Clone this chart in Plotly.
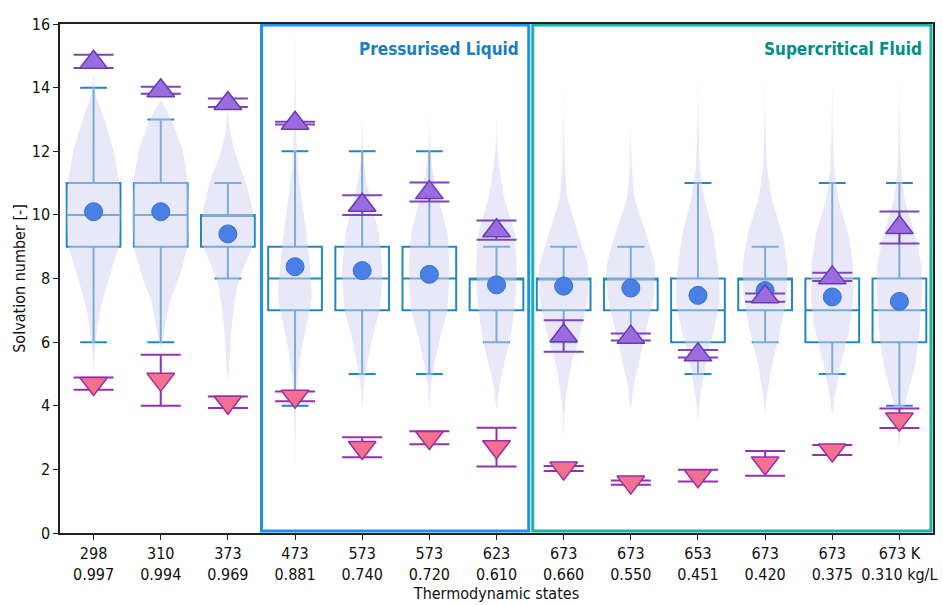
import plotly.graph_objects as go

# Thermodynamic states: temperature (K) and density (kg/L)
temperatures = ["298", "310", "373", "473", "573", "573", "623",
                "673", "673", "653", "673", "673", "673 K"]
densities = ["0.997", "0.994", "0.969", "0.881", "0.740", "0.720", "0.610",
             "0.660", "0.550", "0.451", "0.420", "0.375", "0.310 kg/L"]

# Box statistics of the solvation number distribution
box_lower = [6, 6, 8, 4, 5, 5, 6, 6, 6, 5, 6, 5, 4]
box_q1 = [9, 9, 9, 7, 7, 7, 7, 7, 7, 6, 7, 6, 6]
box_median = [10, 10, 10, 8, 8, 8, 8, 8, 8, 7, 8, 7, 7]
box_q3 = [11, 11, 10, 9, 9, 9, 8, 8, 8, 8, 8, 8, 8]
box_upper = [14, 13, 11, 12, 12, 12, 9, 9, 9, 11, 9, 11, 11]
mean_value = [10.1, 10.1, 9.4, 8.37, 8.25, 8.13, 7.8, 7.76, 7.7, 7.47, 7.62, 7.42, 7.28]

# Upper reference values (triangle up) with their ranges
up_value = [14.8, 13.9, 13.5, 12.88, 10.3, 10.7, 9.5, 6.2, 6.15, 5.6, 7.43, 8.02, 9.6]
up_low = [14.62, 13.81, 13.39, 12.84, 10.0, 10.42, 9.22, 5.7, 6.05, 5.52, 7.27, 7.92, 9.1]
up_high = [15.03, 14.03, 13.66, 12.93, 10.62, 11.02, 9.82, 6.69, 6.27, 5.75, 7.53, 8.18, 10.11]

# Lower reference values (triangle down) with their ranges
down_value = [4.7, 4.83, 4.11, 4.3, 2.69, 3.0, 2.71, 2.04, 1.6, 1.8, 2.2, 2.61, 3.58]
down_low = [4.5, 4.0, 3.93, 4.14, 2.38, 2.79, 2.09, 1.95, 1.52, 1.62, 1.8, 2.45, 3.3]
down_high = [4.89, 5.6, 4.29, 4.45, 3.01, 3.2, 3.31, 2.11, 1.65, 1.99, 2.58, 2.77, 3.91]

# Violin outlines: solvation-number levels and the half-width of the density there
violin_levels = [
    [4.8, 5.5, 6, 7, 8, 9, 10, 11, 12, 13, 13.8, 14.5],
    [5.8, 6.3, 7.3, 8, 9, 10, 11, 12, 13, 13.6],
    [4.8, 5.25, 6.3, 7.3, 8, 9, 10, 11, 12, 12.7, 13.3],
    [2.1, 3.5, 4.7, 5.8, 7.0, 7.5, 8.4, 9.4, 10.5, 11.5, 13, 14.5, 15.9],
    [3.9, 4.6, 5.25, 6.3, 7.0, 8.2, 9.4, 10.5, 11.5, 12.3, 13.1],
    [3.9, 4.6, 5.25, 6.3, 7.0, 8.3, 9.4, 10.5, 11.5, 12.3, 13.2],
    [3.9, 4.6, 5.25, 6.3, 7.3, 8.3, 9.4, 10.5, 11.5, 12.3, 13.1],
    [2.85, 3.6, 4.2, 5.25, 6.3, 7.4, 8.4, 9.4, 10.5, 11.5, 12.7, 14.1],
    [3.9, 4.6, 5.25, 6.3, 7.4, 8.4, 9.4, 10.5, 11.5, 12.1, 12.8],
    [3.58, 4.2, 5.25, 6.3, 7.2, 7.9, 9.4, 10.5, 11.5, 12.8, 14.3],
    [3.8, 4.2, 5.25, 6.3, 7.4, 8.4, 9.4, 10.5, 11.5, 12.8, 14.3],
    [3.7, 4.2, 5.25, 6.3, 7.3, 8.4, 9.4, 10.5, 11.5, 12.7, 14.1],
    [2.7, 3.4, 4.2, 5.25, 6.3, 7.3, 8.4, 9.4, 10.5, 11.5, 12.8, 14.3],
]
violin_halfwidth = [
    [0, 0.01, 0.03, 0.1, 0.23, 0.37, 0.4, 0.38, 0.3, 0.16, 0.03, 0],
    [0, 0.05, 0.14, 0.27, 0.4, 0.42, 0.4, 0.33, 0.16, 0],
    [0, 0.02, 0.05, 0.1, 0.17, 0.36, 0.38, 0.27, 0.1, 0.03, 0],
    [0, 0.01, 0.03, 0.1, 0.22, 0.25, 0.22, 0.17, 0.1, 0.04, 0.012, 0.004, 0],
    [0, 0.02, 0.07, 0.17, 0.26, 0.3, 0.25, 0.12, 0.03, 0.008, 0],
    [0, 0.02, 0.07, 0.18, 0.27, 0.3, 0.27, 0.14, 0.04, 0.008, 0],
    [0, 0.04, 0.11, 0.22, 0.28, 0.3, 0.27, 0.12, 0.04, 0.008, 0],
    [0, 0.01, 0.03, 0.11, 0.25, 0.36, 0.36, 0.22, 0.06, 0.02, 0.006, 0],
    [0, 0.04, 0.11, 0.22, 0.34, 0.36, 0.23, 0.06, 0.015, 0.006, 0],
    [0, 0.03, 0.11, 0.23, 0.32, 0.32, 0.23, 0.1, 0.03, 0.008, 0],
    [0, 0.02, 0.1, 0.22, 0.32, 0.33, 0.26, 0.1, 0.03, 0.008, 0],
    [0, 0.03, 0.12, 0.25, 0.31, 0.31, 0.24, 0.09, 0.03, 0.008, 0],
    [0, 0.03, 0.1, 0.23, 0.3, 0.33, 0.33, 0.23, 0.08, 0.025, 0.008, 0],
]

FONT = "DejaVu Sans Condensed, DejaVu Sans, sans-serif"
positions = list(range(len(temperatures)))

fig = go.Figure()

# Violins as filled, smoothed outlines
for pos, levels, hw in zip(positions, violin_levels, violin_halfwidth):
    xs = [pos + w for w in hw] + [pos - w for w in reversed(hw)]
    ys = list(levels) + list(reversed(levels))
    fig.add_trace(go.Scatter(
        x=xs, y=ys, mode="lines", fill="toself",
        line=dict(width=0, shape="spline", smoothing=0.4),
        fillcolor="rgba(210,210,242,0.5)",
        hoverinfo="skip", showlegend=False,
    ))

# Box-and-whisker from precomputed statistics
fig.add_trace(go.Box(
    x=positions, q1=box_q1, median=box_median, q3=box_q3,
    lowerfence=box_lower, upperfence=box_upper,
    width=0.8, whiskerwidth=0.5, boxpoints=False,
    fillcolor="rgba(0,0,0,0)",
    line=dict(color="#2387c2", width=2),
    showlegend=False,
))

# Mean values
fig.add_trace(go.Scatter(
    x=positions, y=mean_value, mode="markers",
    marker=dict(symbol="circle", size=18, color="#4a80e6",
                line=dict(color="#2f72d6", width=1)),
    showlegend=False,
))

# Upper reference values
fig.add_trace(go.Scatter(
    x=positions, y=up_value, mode="markers",
    marker=dict(symbol="triangle-up", size=24, color="#9d6be0",
                line=dict(color="#6a3cb0", width=1.5)),
    error_y=dict(type="data", symmetric=False,
                 array=[h - v for h, v in zip(up_high, up_value)],
                 arrayminus=[v - l for v, l in zip(up_value, up_low)],
                 width=20, thickness=2, color="#7d45bd"),
    showlegend=False,
))

# Lower reference values
fig.add_trace(go.Scatter(
    x=positions, y=down_value, mode="markers",
    marker=dict(symbol="triangle-down", size=24, color="#f4708f",
                line=dict(color="#9a2ea8", width=1.5)),
    error_y=dict(type="data", symmetric=False,
                 array=[h - v for h, v in zip(down_high, down_value)],
                 arrayminus=[v - l for v, l in zip(down_value, down_low)],
                 width=20, thickness=2, color="#9530b0"),
    showlegend=False,
))

# Phase regions
fig.add_shape(type="rect", xref="x", yref="y", x0=2.5, x1=6.48, y0=0.06, y1=15.97,
              line=dict(color="#1e90f0", width=3), layer="above")
fig.add_shape(type="rect", xref="x", yref="y", x0=6.54, x1=12.47, y0=0.06, y1=15.97,
              line=dict(color="#19b3a6", width=3), layer="above")
fig.add_annotation(x=6.37, y=15.2, xref="x", yref="y", text="<b>Pressurised Liquid</b>",
                   showarrow=False, xanchor="right", yanchor="middle",
                   font=dict(family=FONT, size=17, color="#1a7fc1"))
fig.add_annotation(x=12.37, y=15.2, xref="x", yref="y", text="<b>Supercritical Fluid</b>",
                   showarrow=False, xanchor="right", yanchor="middle",
                   font=dict(family=FONT, size=17, color="#008f86"))

fig.update_layout(
    width=943, height=605,
    margin=dict(l=60, r=6, t=24, b=71),
    paper_bgcolor="white", plot_bgcolor="white",
    font=dict(family=FONT, size=16, color="#111"),
    showlegend=False,
)
fig.update_xaxes(
    range=[-0.5, 12.5], tickmode="array", tickvals=positions,
    ticktext=[f"{t}<br>{d}" for t, d in zip(temperatures, densities)],
    showgrid=False, zeroline=False, showline=True, linecolor="#222", linewidth=1.5,
    mirror=True, ticks="outside", ticklen=5, tickcolor="#222",
    title=dict(text="Thermodynamic states", standoff=4, font=dict(size=16)),
    tickfont=dict(size=16),
)
fig.update_yaxes(
    range=[0, 16], dtick=2, showgrid=False, zeroline=False,
    showline=True, linecolor="#222", linewidth=1.5, mirror=True,
    ticks="outside", ticklen=5, tickcolor="#222",
    title=dict(text="Solvation number [-]", standoff=2, font=dict(size=16)),
    tickfont=dict(size=16),
)

fig.write_html("out.html")
